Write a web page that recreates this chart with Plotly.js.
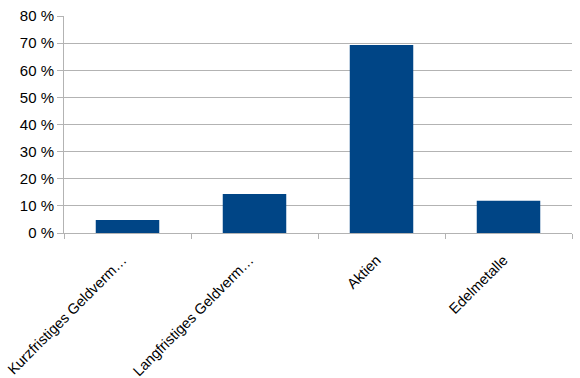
<!DOCTYPE html>
<html>
<head>
<meta charset="utf-8">
<script src="https://cdn.plot.ly/plotly-3.0.1.min.js"></script>
<style>html,body{margin:0;padding:0;background:#fff;}#chart{width:580px;height:378px;}</style>
</head>
<body>
<div id="chart"></div>
<script>
const categories = ["Kurzfristiges Geldverm…", "Langfristiges Geldverm…", "Aktien", "Edelmetalle"];
const values = [4.8, 14.4, 69.3, 11.9];
const yTicks = [0, 10, 20, 30, 40, 50, 60, 70, 80];
const yTickLabels = ["0 %", "10 %", "20 %", "30 %", "40 %", "50 %", "60 %", "70 %", "80 %"];

const grid = "#b3b3b3";
Plotly.newPlot("chart", [{
  type: "bar",
  x: categories,
  y: values,
  marker: {color: "#004586", line: {width: 0}},
  hoverinfo: "none"
}], {
  width: 580, height: 378,
  margin: {l: 64, r: 8, t: 16, b: 145},
  paper_bgcolor: "#fff", plot_bgcolor: "#fff",
  bargap: 0.5,
  showlegend: false,
  font: {family: "Liberation Sans, Arial, sans-serif", size: 14, color: "#000"},
  xaxis: {
    type: "category",
    showline: true, linecolor: grid, linewidth: 1,
    ticks: "outside", tickson: "boundaries", ticklen: 5, tickcolor: grid,
    tickangle: -45,
    tickfont: {size: 14.5},
    ticklabelstandoff: 12,
    ticklabelshift: -5,
    showgrid: false
  },
  yaxis: {
    range: [0, 80],
    tickmode: "array",
    tickvals: yTicks,
    ticktext: yTickLabels,
    showline: true, linecolor: grid, linewidth: 1,
    ticks: "outside", ticklen: 6, tickcolor: grid,
    showgrid: true, gridcolor: grid, gridwidth: 1,
    zeroline: false,
    tickfont: {size: 15}
  }
}, {staticPlot: true});
</script>
</body>
</html>
